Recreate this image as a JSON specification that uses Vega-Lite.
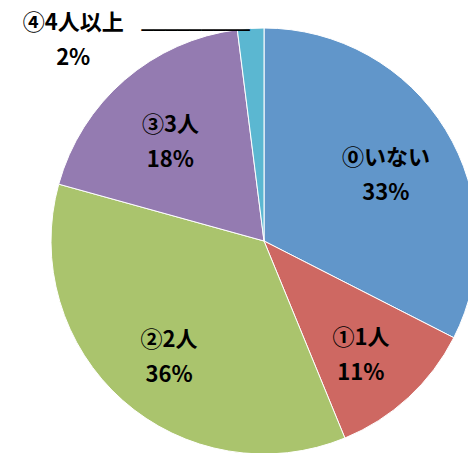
{
  "$schema": "https://vega.github.io/schema/vega-lite/v6.json",
  "width": 408,
  "height": 424,
  "autosize": "none",
  "padding": {"left": 60, "top": 29, "right": 0, "bottom": 0},
  "background": "white",
  "config": {"view": {"stroke": null}},
  "data": {
    "values": [
      {"ord": 1, "category": "⓪いない", "value": 32.5, "pct": "33%"},
      {"ord": 2, "category": "①1人", "value": 11.3, "pct": "11%"},
      {"ord": 3, "category": "②2人", "value": 35.5, "pct": "36%"},
      {"ord": 4, "category": "③3人", "value": 18.7, "pct": "18%"},
      {"ord": 5, "category": "④4人以上", "value": 2.0, "pct": "2%"}
    ]
  },
  "transform": [{"calculate": "[datum.category, datum.pct]", "as": "label"}],
  "encoding": {
    "theta": {"field": "value", "type": "quantitative", "stack": true},
    "order": {"field": "ord", "type": "quantitative"}
  },
  "layer": [
    {
      "mark": {"type": "arc", "outerRadius": 213, "stroke": "white", "strokeWidth": 1},
      "encoding": {
        "color": {
          "field": "category",
          "type": "nominal",
          "sort": {"field": "ord"},
          "scale": {
            "domain": ["⓪いない", "①1人", "②2人", "③3人", "④4人以上"],
            "range": ["#6196CA", "#CE6862", "#AAC46D", "#947BB1", "#5BB7D1"]
          },
          "legend": null
        }
      }
    },
    {
      "mark": {"type": "text", "radius": 143, "dy": -8, "font": "Noto Sans CJK JP", "fontWeight": "bold", "fontSize": 22, "lineHeight": 35, "color": "black", "baseline": "middle", "align": "center"},
      "encoding": {"text": {"condition": {"test": "datum.ord < 5", "field": "label"}, "value": ""}}
    },
    {
      "mark": {"type": "text", "radius": 140, "dx": -182, "dy": -78, "font": "Noto Sans CJK JP", "fontWeight": "bold", "fontSize": 22, "lineHeight": 35, "color": "black", "baseline": "middle", "align": "center"},
      "encoding": {"text": {"condition": {"test": "datum.ord == 5", "field": "label"}, "value": ""}}
    },
    {
      "mark": {"type": "text", "radius": 213, "dx": -55, "dy": 3, "font": "DejaVu Sans", "fontSize": 20, "color": "black", "baseline": "middle", "align": "center"},
      "encoding": {"text": {"condition": {"test": "datum.ord == 5", "value": "─────────"}, "value": ""}}
    }
  ]
}
